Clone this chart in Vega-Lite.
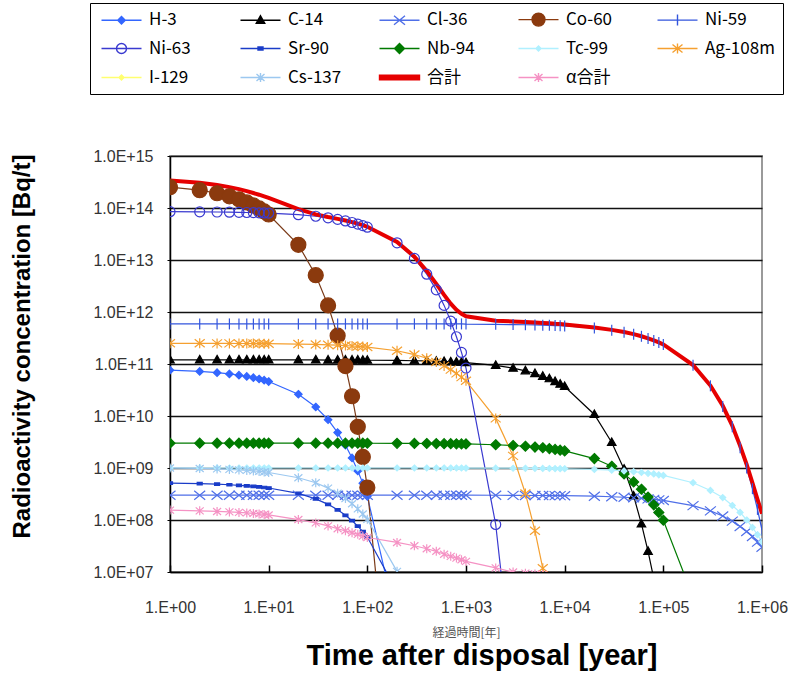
{
"$schema":"https://vega.github.io/schema/vega-lite/v6.json",
"width":592,"height":416,
"autosize":{"type":"none"},
"padding":{"left":170,"top":156,"right":27,"bottom":108},
"background":"white",
"title":{"text":"Time after disposal [year]","orient":"bottom","anchor":"middle","font":"Liberation Sans","fontSize":29,"fontWeight":"bold","color":"black","offset":4,"dx":16},
"data":{"values":[
{"s":"H-3","t":1,"v":7.6e10},{"s":"H-3","t":2,"v":7.2e10},{"s":"H-3","t":3,"v":6.8e10},{"s":"H-3","t":4,"v":6.45e10},{"s":"H-3","t":5,"v":6.1e10},{"s":"H-3","t":6,"v":5.77e10},{"s":"H-3","t":7,"v":5.45e10},{"s":"H-3","t":8,"v":5.15e10},{"s":"H-3","t":9,"v":4.88e10},{"s":"H-3","t":10,"v":4.6e10},{"s":"H-3","t":20,"v":2.62e10},{"s":"H-3","t":30,"v":1.49e10},{"s":"H-3","t":40,"v":8.5e9},{"s":"H-3","t":50,"v":4.8e9},{"s":"H-3","t":60,"v":2.74e9},{"s":"H-3","t":70,"v":1.56e9},{"s":"H-3","t":80,"v":8.8e8},{"s":"H-3","t":90,"v":5.1e8},{"s":"H-3","t":100,"v":2.85e8},{"s":"H-3","t":200,"v":1.0e6},
{"s":"C-14","t":1,"v":1.2e11},{"s":"C-14","t":2,"v":1.2e11},{"s":"C-14","t":3,"v":1.2e11},{"s":"C-14","t":4,"v":1.2e11},{"s":"C-14","t":5,"v":1.2e11},{"s":"C-14","t":6,"v":1.2e11},{"s":"C-14","t":7,"v":1.2e11},{"s":"C-14","t":8,"v":1.2e11},{"s":"C-14","t":9,"v":1.2e11},{"s":"C-14","t":10,"v":1.2e11},{"s":"C-14","t":20,"v":1.2e11},{"s":"C-14","t":30,"v":1.2e11},{"s":"C-14","t":40,"v":1.19e11},{"s":"C-14","t":50,"v":1.19e11},{"s":"C-14","t":60,"v":1.19e11},{"s":"C-14","t":70,"v":1.19e11},{"s":"C-14","t":80,"v":1.19e11},{"s":"C-14","t":90,"v":1.18e11},{"s":"C-14","t":100,"v":1.18e11},{"s":"C-14","t":200,"v":1.17e11},{"s":"C-14","t":300,"v":1.155e11},{"s":"C-14","t":400,"v":1.145e11},{"s":"C-14","t":500,"v":1.13e11},{"s":"C-14","t":600,"v":1.12e11},{"s":"C-14","t":700,"v":1.1e11},{"s":"C-14","t":800,"v":1.09e11},{"s":"C-14","t":900,"v":1.08e11},{"s":"C-14","t":1000,"v":1.06e11},{"s":"C-14","t":2000,"v":9.4e10},{"s":"C-14","t":3000,"v":8.3e10},{"s":"C-14","t":4000,"v":7.4e10},{"s":"C-14","t":5000,"v":6.55e10},{"s":"C-14","t":6000,"v":5.8e10},{"s":"C-14","t":7000,"v":5.2e10},{"s":"C-14","t":8000,"v":4.6e10},{"s":"C-14","t":9000,"v":4.1e10},{"s":"C-14","t":10000,"v":3.7e10},{"s":"C-14","t":20000,"v":1.07e10},{"s":"C-14","t":30000,"v":3.1e9},{"s":"C-14","t":40000,"v":9.5e8},{"s":"C-14","t":50000,"v":2.9e8},{"s":"C-14","t":60000,"v":8.4e7},{"s":"C-14","t":70000,"v":2.5e7},{"s":"C-14","t":80000,"v":7.5e6},{"s":"C-14","t":90000,"v":2.2e6},
{"s":"Cl-36","t":1,"v":3.0e8},{"s":"Cl-36","t":2,"v":3.0e8},{"s":"Cl-36","t":3,"v":3.0e8},{"s":"Cl-36","t":4,"v":3.0e8},{"s":"Cl-36","t":5,"v":3.0e8},{"s":"Cl-36","t":6,"v":3.0e8},{"s":"Cl-36","t":7,"v":3.0e8},{"s":"Cl-36","t":8,"v":3.0e8},{"s":"Cl-36","t":9,"v":3.0e8},{"s":"Cl-36","t":10,"v":3.0e8},{"s":"Cl-36","t":20,"v":3.0e8},{"s":"Cl-36","t":30,"v":3.0e8},{"s":"Cl-36","t":40,"v":3.0e8},{"s":"Cl-36","t":50,"v":3.0e8},{"s":"Cl-36","t":60,"v":3.0e8},{"s":"Cl-36","t":70,"v":3.0e8},{"s":"Cl-36","t":80,"v":3.0e8},{"s":"Cl-36","t":90,"v":3.0e8},{"s":"Cl-36","t":100,"v":3.0e8},{"s":"Cl-36","t":200,"v":3.0e8},{"s":"Cl-36","t":300,"v":3.0e8},{"s":"Cl-36","t":400,"v":3.0e8},{"s":"Cl-36","t":500,"v":3.0e8},{"s":"Cl-36","t":600,"v":3.0e8},{"s":"Cl-36","t":700,"v":3.0e8},{"s":"Cl-36","t":800,"v":3.0e8},{"s":"Cl-36","t":900,"v":3.0e8},{"s":"Cl-36","t":1000,"v":3.0e8},{"s":"Cl-36","t":2000,"v":2.99e8},{"s":"Cl-36","t":3000,"v":2.98e8},{"s":"Cl-36","t":4000,"v":2.97e8},{"s":"Cl-36","t":5000,"v":2.96e8},{"s":"Cl-36","t":6000,"v":2.96e8},{"s":"Cl-36","t":7000,"v":2.95e8},{"s":"Cl-36","t":8000,"v":2.94e8},{"s":"Cl-36","t":9000,"v":2.94e8},{"s":"Cl-36","t":10000,"v":2.93e8},{"s":"Cl-36","t":20000,"v":2.87e8},{"s":"Cl-36","t":30000,"v":2.8e8},{"s":"Cl-36","t":40000,"v":2.74e8},{"s":"Cl-36","t":50000,"v":2.67e8},{"s":"Cl-36","t":60000,"v":2.62e8},{"s":"Cl-36","t":70000,"v":2.55e8},{"s":"Cl-36","t":80000,"v":2.49e8},{"s":"Cl-36","t":90000,"v":2.44e8},{"s":"Cl-36","t":100000,"v":2.38e8},{"s":"Cl-36","t":200000,"v":1.89e8},{"s":"Cl-36","t":300000,"v":1.5e8},{"s":"Cl-36","t":400000,"v":1.19e8},{"s":"Cl-36","t":500000,"v":9.5e7},{"s":"Cl-36","t":600000,"v":7.5e7},{"s":"Cl-36","t":700000,"v":6.0e7},{"s":"Cl-36","t":800000,"v":4.8e7},{"s":"Cl-36","t":900000,"v":3.75e7},{"s":"Cl-36","t":1000000,"v":3.0e7},
{"s":"Co-60","t":1,"v":2.51e14},{"s":"Co-60","t":2,"v":2.2e14},{"s":"Co-60","t":3,"v":1.92e14},{"s":"Co-60","t":4,"v":1.68e14},{"s":"Co-60","t":5,"v":1.47e14},{"s":"Co-60","t":6,"v":1.28e14},{"s":"Co-60","t":7,"v":1.12e14},{"s":"Co-60","t":8,"v":9.8e13},{"s":"Co-60","t":9,"v":8.6e13},{"s":"Co-60","t":10,"v":7.5e13},{"s":"Co-60","t":20,"v":1.96e13},{"s":"Co-60","t":30,"v":5.1e12},{"s":"Co-60","t":40,"v":1.34e12},{"s":"Co-60","t":50,"v":3.5e11},{"s":"Co-60","t":60,"v":9.1e10},{"s":"Co-60","t":70,"v":2.4e10},{"s":"Co-60","t":80,"v":6.2e9},{"s":"Co-60","t":90,"v":1.63e9},{"s":"Co-60","t":100,"v":4.2e8},{"s":"Co-60","t":200,"v":600},
{"s":"Ni-59","t":1,"v":5.9e11},{"s":"Ni-59","t":2,"v":5.9e11},{"s":"Ni-59","t":3,"v":5.9e11},{"s":"Ni-59","t":4,"v":5.9e11},{"s":"Ni-59","t":5,"v":5.9e11},{"s":"Ni-59","t":6,"v":5.9e11},{"s":"Ni-59","t":7,"v":5.9e11},{"s":"Ni-59","t":8,"v":5.9e11},{"s":"Ni-59","t":9,"v":5.9e11},{"s":"Ni-59","t":10,"v":5.9e11},{"s":"Ni-59","t":20,"v":5.9e11},{"s":"Ni-59","t":30,"v":5.9e11},{"s":"Ni-59","t":40,"v":5.9e11},{"s":"Ni-59","t":50,"v":5.9e11},{"s":"Ni-59","t":60,"v":5.9e11},{"s":"Ni-59","t":70,"v":5.9e11},{"s":"Ni-59","t":80,"v":5.9e11},{"s":"Ni-59","t":90,"v":5.9e11},{"s":"Ni-59","t":100,"v":5.9e11},{"s":"Ni-59","t":200,"v":5.9e11},{"s":"Ni-59","t":300,"v":5.9e11},{"s":"Ni-59","t":400,"v":5.9e11},{"s":"Ni-59","t":500,"v":5.9e11},{"s":"Ni-59","t":600,"v":5.9e11},{"s":"Ni-59","t":700,"v":5.9e11},{"s":"Ni-59","t":800,"v":5.9e11},{"s":"Ni-59","t":900,"v":5.9e11},{"s":"Ni-59","t":1000,"v":5.85e11},{"s":"Ni-59","t":2000,"v":5.79e11},{"s":"Ni-59","t":3000,"v":5.72e11},{"s":"Ni-59","t":4000,"v":5.69e11},{"s":"Ni-59","t":5000,"v":5.63e11},{"s":"Ni-59","t":6000,"v":5.58e11},{"s":"Ni-59","t":7000,"v":5.54e11},{"s":"Ni-59","t":8000,"v":5.48e11},{"s":"Ni-59","t":9000,"v":5.44e11},{"s":"Ni-59","t":10000,"v":5.38e11},{"s":"Ni-59","t":20000,"v":4.92e11},{"s":"Ni-59","t":30000,"v":4.48e11},{"s":"Ni-59","t":40000,"v":4.09e11},{"s":"Ni-59","t":50000,"v":3.74e11},{"s":"Ni-59","t":60000,"v":3.41e11},{"s":"Ni-59","t":70000,"v":3.11e11},{"s":"Ni-59","t":80000,"v":2.84e11},{"s":"Ni-59","t":90000,"v":2.6e11},{"s":"Ni-59","t":100000,"v":2.37e11},{"s":"Ni-59","t":200000,"v":9.5e10},{"s":"Ni-59","t":300000,"v":3.8e10},{"s":"Ni-59","t":400000,"v":1.53e10},{"s":"Ni-59","t":500000,"v":6.2e9},{"s":"Ni-59","t":600000,"v":2.45e9},{"s":"Ni-59","t":700000,"v":1.0e9},{"s":"Ni-59","t":800000,"v":4.0e8},{"s":"Ni-59","t":900000,"v":1.6e8},{"s":"Ni-59","t":1000000,"v":6.4e7},
{"s":"Ni-63","t":1,"v":8.49e13},{"s":"Ni-63","t":2,"v":8.43e13},{"s":"Ni-63","t":3,"v":8.37e13},{"s":"Ni-63","t":4,"v":8.31e13},{"s":"Ni-63","t":5,"v":8.26e13},{"s":"Ni-63","t":6,"v":8.2e13},{"s":"Ni-63","t":7,"v":8.14e13},{"s":"Ni-63","t":8,"v":8.08e13},{"s":"Ni-63","t":9,"v":8.03e13},{"s":"Ni-63","t":10,"v":7.97e13},{"s":"Ni-63","t":20,"v":7.44e13},{"s":"Ni-63","t":30,"v":6.94e13},{"s":"Ni-63","t":40,"v":6.47e13},{"s":"Ni-63","t":50,"v":6.04e13},{"s":"Ni-63","t":60,"v":5.64e13},{"s":"Ni-63","t":70,"v":5.26e13},{"s":"Ni-63","t":80,"v":4.91e13},{"s":"Ni-63","t":90,"v":4.58e13},{"s":"Ni-63","t":100,"v":4.27e13},{"s":"Ni-63","t":200,"v":2.14e13},{"s":"Ni-63","t":300,"v":1.07e13},{"s":"Ni-63","t":400,"v":5.34e12},{"s":"Ni-63","t":500,"v":2.67e12},{"s":"Ni-63","t":600,"v":1.34e12},{"s":"Ni-63","t":700,"v":6.68e11},{"s":"Ni-63","t":800,"v":3.34e11},{"s":"Ni-63","t":900,"v":1.67e11},{"s":"Ni-63","t":1000,"v":8.35e10},{"s":"Ni-63","t":2000,"v":8.2e7},{"s":"Ni-63","t":3000,"v":8.0e4},
{"s":"Sr-90","t":1,"v":5.1e8},{"s":"Sr-90","t":2,"v":5.0e8},{"s":"Sr-90","t":3,"v":4.88e8},{"s":"Sr-90","t":4,"v":4.76e8},{"s":"Sr-90","t":5,"v":4.65e8},{"s":"Sr-90","t":6,"v":4.54e8},{"s":"Sr-90","t":7,"v":4.43e8},{"s":"Sr-90","t":8,"v":4.32e8},{"s":"Sr-90","t":9,"v":4.22e8},{"s":"Sr-90","t":10,"v":4.12e8},{"s":"Sr-90","t":20,"v":3.24e8},{"s":"Sr-90","t":30,"v":2.55e8},{"s":"Sr-90","t":40,"v":2.0e8},{"s":"Sr-90","t":50,"v":1.57e8},{"s":"Sr-90","t":60,"v":1.23e8},{"s":"Sr-90","t":70,"v":9.7e7},{"s":"Sr-90","t":80,"v":7.6e7},{"s":"Sr-90","t":90,"v":6.0e7},{"s":"Sr-90","t":100,"v":4.7e7},{"s":"Sr-90","t":200,"v":4.2e6},
{"s":"Nb-94","t":1,"v":3.0e9},{"s":"Nb-94","t":2,"v":3.0e9},{"s":"Nb-94","t":3,"v":3.0e9},{"s":"Nb-94","t":4,"v":3.0e9},{"s":"Nb-94","t":5,"v":3.0e9},{"s":"Nb-94","t":6,"v":3.0e9},{"s":"Nb-94","t":7,"v":3.0e9},{"s":"Nb-94","t":8,"v":3.0e9},{"s":"Nb-94","t":9,"v":3.0e9},{"s":"Nb-94","t":10,"v":3.0e9},{"s":"Nb-94","t":20,"v":3.0e9},{"s":"Nb-94","t":30,"v":3.0e9},{"s":"Nb-94","t":40,"v":3.0e9},{"s":"Nb-94","t":50,"v":3.0e9},{"s":"Nb-94","t":60,"v":3.0e9},{"s":"Nb-94","t":70,"v":3.0e9},{"s":"Nb-94","t":80,"v":3.0e9},{"s":"Nb-94","t":90,"v":3.0e9},{"s":"Nb-94","t":100,"v":2.99e9},{"s":"Nb-94","t":200,"v":2.98e9},{"s":"Nb-94","t":300,"v":2.97e9},{"s":"Nb-94","t":400,"v":2.96e9},{"s":"Nb-94","t":500,"v":2.95e9},{"s":"Nb-94","t":600,"v":2.94e9},{"s":"Nb-94","t":700,"v":2.93e9},{"s":"Nb-94","t":800,"v":2.92e9},{"s":"Nb-94","t":900,"v":2.91e9},{"s":"Nb-94","t":1000,"v":2.9e9},{"s":"Nb-94","t":2000,"v":2.8e9},{"s":"Nb-94","t":3000,"v":2.71e9},{"s":"Nb-94","t":4000,"v":2.62e9},{"s":"Nb-94","t":5000,"v":2.53e9},{"s":"Nb-94","t":6000,"v":2.45e9},{"s":"Nb-94","t":7000,"v":2.36e9},{"s":"Nb-94","t":8000,"v":2.28e9},{"s":"Nb-94","t":9000,"v":2.2e9},{"s":"Nb-94","t":10000,"v":2.13e9},{"s":"Nb-94","t":20000,"v":1.52e9},{"s":"Nb-94","t":30000,"v":1.08e9},{"s":"Nb-94","t":40000,"v":7.7e8},{"s":"Nb-94","t":50000,"v":5.4e8},{"s":"Nb-94","t":60000,"v":3.9e8},{"s":"Nb-94","t":70000,"v":2.76e8},{"s":"Nb-94","t":80000,"v":1.96e8},{"s":"Nb-94","t":90000,"v":1.4e8},{"s":"Nb-94","t":100000,"v":9.9e7},{"s":"Nb-94","t":200000,"v":3.3e6},
{"s":"Tc-99","t":1,"v":1.0e9},{"s":"Tc-99","t":2,"v":1.0e9},{"s":"Tc-99","t":3,"v":1.0e9},{"s":"Tc-99","t":4,"v":1.0e9},{"s":"Tc-99","t":5,"v":1.0e9},{"s":"Tc-99","t":6,"v":1.0e9},{"s":"Tc-99","t":7,"v":1.0e9},{"s":"Tc-99","t":8,"v":1.0e9},{"s":"Tc-99","t":9,"v":1.0e9},{"s":"Tc-99","t":10,"v":1.0e9},{"s":"Tc-99","t":20,"v":1.0e9},{"s":"Tc-99","t":30,"v":1.0e9},{"s":"Tc-99","t":40,"v":1.0e9},{"s":"Tc-99","t":50,"v":1.0e9},{"s":"Tc-99","t":60,"v":1.0e9},{"s":"Tc-99","t":70,"v":1.0e9},{"s":"Tc-99","t":80,"v":1.0e9},{"s":"Tc-99","t":90,"v":1.0e9},{"s":"Tc-99","t":100,"v":1.0e9},{"s":"Tc-99","t":200,"v":1.0e9},{"s":"Tc-99","t":300,"v":1.0e9},{"s":"Tc-99","t":400,"v":1.0e9},{"s":"Tc-99","t":500,"v":1.0e9},{"s":"Tc-99","t":600,"v":1.0e9},{"s":"Tc-99","t":700,"v":1.0e9},{"s":"Tc-99","t":800,"v":1.0e9},{"s":"Tc-99","t":900,"v":1.0e9},{"s":"Tc-99","t":1000,"v":9.97e8},{"s":"Tc-99","t":2000,"v":9.93e8},{"s":"Tc-99","t":3000,"v":9.9e8},{"s":"Tc-99","t":4000,"v":9.87e8},{"s":"Tc-99","t":5000,"v":9.84e8},{"s":"Tc-99","t":6000,"v":9.81e8},{"s":"Tc-99","t":7000,"v":9.77e8},{"s":"Tc-99","t":8000,"v":9.74e8},{"s":"Tc-99","t":9000,"v":9.71e8},{"s":"Tc-99","t":10000,"v":9.68e8},{"s":"Tc-99","t":20000,"v":9.4e8},{"s":"Tc-99","t":30000,"v":9.1e8},{"s":"Tc-99","t":40000,"v":8.8e8},{"s":"Tc-99","t":50000,"v":8.5e8},{"s":"Tc-99","t":60000,"v":8.2e8},{"s":"Tc-99","t":70000,"v":7.9e8},{"s":"Tc-99","t":80000,"v":7.7e8},{"s":"Tc-99","t":90000,"v":7.4e8},{"s":"Tc-99","t":100000,"v":7.2e8},{"s":"Tc-99","t":200000,"v":5.2e8},{"s":"Tc-99","t":300000,"v":3.7e8},{"s":"Tc-99","t":400000,"v":2.7e8},{"s":"Tc-99","t":500000,"v":1.9e8},{"s":"Tc-99","t":600000,"v":1.4e8},{"s":"Tc-99","t":700000,"v":1.0e8},{"s":"Tc-99","t":800000,"v":7.2e7},{"s":"Tc-99","t":900000,"v":5.2e7},{"s":"Tc-99","t":1000000,"v":3.8e7},
{"s":"Ag-108m","t":1,"v":2.5e11},{"s":"Ag-108m","t":2,"v":2.5e11},{"s":"Ag-108m","t":3,"v":2.49e11},{"s":"Ag-108m","t":4,"v":2.49e11},{"s":"Ag-108m","t":5,"v":2.48e11},{"s":"Ag-108m","t":6,"v":2.48e11},{"s":"Ag-108m","t":7,"v":2.47e11},{"s":"Ag-108m","t":8,"v":2.47e11},{"s":"Ag-108m","t":9,"v":2.46e11},{"s":"Ag-108m","t":10,"v":2.46e11},{"s":"Ag-108m","t":20,"v":2.42e11},{"s":"Ag-108m","t":30,"v":2.38e11},{"s":"Ag-108m","t":40,"v":2.34e11},{"s":"Ag-108m","t":50,"v":2.3e11},{"s":"Ag-108m","t":60,"v":2.26e11},{"s":"Ag-108m","t":70,"v":2.22e11},{"s":"Ag-108m","t":80,"v":2.19e11},{"s":"Ag-108m","t":90,"v":2.16e11},{"s":"Ag-108m","t":100,"v":2.12e11},{"s":"Ag-108m","t":200,"v":1.8e11},{"s":"Ag-108m","t":300,"v":1.52e11},{"s":"Ag-108m","t":400,"v":1.29e11},{"s":"Ag-108m","t":500,"v":1.09e11},{"s":"Ag-108m","t":600,"v":9.2e10},{"s":"Ag-108m","t":700,"v":7.8e10},{"s":"Ag-108m","t":800,"v":6.6e10},{"s":"Ag-108m","t":900,"v":5.6e10},{"s":"Ag-108m","t":1000,"v":4.75e10},{"s":"Ag-108m","t":2000,"v":9.0e9},{"s":"Ag-108m","t":3000,"v":1.71e9},{"s":"Ag-108m","t":4000,"v":3.24e8},{"s":"Ag-108m","t":5000,"v":6.2e7},{"s":"Ag-108m","t":6000,"v":1.18e7},{"s":"Ag-108m","t":7000,"v":2.2e6},
{"s":"I-129","t":1,"v":2.0e5},{"s":"I-129","t":10,"v":2.0e5},{"s":"I-129","t":100,"v":2.0e5},{"s":"I-129","t":1000,"v":2.0e5},{"s":"I-129","t":10000,"v":2.0e5},{"s":"I-129","t":100000,"v":2.0e5},{"s":"I-129","t":1000000,"v":1.9e5},
{"s":"Cs-137","t":1,"v":1.0e9},{"s":"Cs-137","t":2,"v":9.8e8},{"s":"Cs-137","t":3,"v":9.6e8},{"s":"Cs-137","t":4,"v":9.4e8},{"s":"Cs-137","t":5,"v":9.2e8},{"s":"Cs-137","t":6,"v":9.0e8},{"s":"Cs-137","t":7,"v":8.8e8},{"s":"Cs-137","t":8,"v":8.6e8},{"s":"Cs-137","t":9,"v":8.4e8},{"s":"Cs-137","t":10,"v":8.2e8},{"s":"Cs-137","t":20,"v":6.5e8},{"s":"Cs-137","t":30,"v":5.2e8},{"s":"Cs-137","t":40,"v":4.1e8},{"s":"Cs-137","t":50,"v":3.26e8},{"s":"Cs-137","t":60,"v":2.59e8},{"s":"Cs-137","t":70,"v":2.06e8},{"s":"Cs-137","t":80,"v":1.64e8},{"s":"Cs-137","t":90,"v":1.3e8},{"s":"Cs-137","t":100,"v":1.03e8},{"s":"Cs-137","t":200,"v":1.03e7},{"s":"Cs-137","t":300,"v":1.0e6},
{"s":"合計","t":1,"v":3.37e14},{"s":"合計","t":2,"v":3.05e14},{"s":"合計","t":3,"v":2.77e14},{"s":"合計","t":4,"v":2.52e14},{"s":"合計","t":5,"v":2.31e14},{"s":"合計","t":6,"v":2.11e14},{"s":"合計","t":7,"v":1.94e14},{"s":"合計","t":8,"v":1.8e14},{"s":"合計","t":9,"v":1.67e14},{"s":"合計","t":10,"v":1.56e14},{"s":"合計","t":20,"v":9.5e13},{"s":"合計","t":30,"v":7.55e13},{"s":"合計","t":40,"v":6.7e13},{"s":"合計","t":50,"v":6.17e13},{"s":"合計","t":60,"v":5.74e13},{"s":"合計","t":70,"v":5.36e13},{"s":"合計","t":80,"v":5.0e13},{"s":"合計","t":90,"v":4.67e13},{"s":"合計","t":100,"v":4.36e13},{"s":"合計","t":200,"v":2.23e13},{"s":"合計","t":300,"v":1.16e13},{"s":"合計","t":400,"v":6.17e12},{"s":"合計","t":500,"v":3.48e12},{"s":"合計","t":600,"v":2.13e12},{"s":"合計","t":700,"v":1.45e12},{"s":"合計","t":800,"v":1.1e12},{"s":"合計","t":900,"v":9.2e11},{"s":"合計","t":1000,"v":8.27e11},{"s":"合計","t":2000,"v":6.82e11},{"s":"合計","t":3000,"v":6.57e11},{"s":"合計","t":4000,"v":6.43e11},{"s":"合計","t":5000,"v":6.29e11},{"s":"合計","t":6000,"v":6.16e11},{"s":"合計","t":7000,"v":6.06e11},{"s":"合計","t":8000,"v":5.93e11},{"s":"合計","t":9000,"v":5.85e11},{"s":"合計","t":10000,"v":5.77e11},{"s":"合計","t":20000,"v":5.05e11},{"s":"合計","t":30000,"v":4.53e11},{"s":"合計","t":40000,"v":4.12e11},{"s":"合計","t":50000,"v":3.76e11},{"s":"合計","t":60000,"v":3.42e11},{"s":"合計","t":70000,"v":3.12e11},{"s":"合計","t":80000,"v":2.85e11},{"s":"合計","t":90000,"v":2.61e11},{"s":"合計","t":100000,"v":2.38e11},{"s":"合計","t":200000,"v":9.57e10},{"s":"合計","t":300000,"v":3.85e10},{"s":"合計","t":400000,"v":1.57e10},{"s":"合計","t":500000,"v":6.5e9},{"s":"合計","t":600000,"v":2.67e9},{"s":"合計","t":700000,"v":1.16e9},{"s":"合計","t":800000,"v":5.2e8},{"s":"合計","t":900000,"v":2.5e8},{"s":"合計","t":1000000,"v":1.32e8},
{"s":"α合計","t":1,"v":1.55e8},{"s":"α合計","t":2,"v":1.5e8},{"s":"α合計","t":3,"v":1.46e8},{"s":"α合計","t":4,"v":1.43e8},{"s":"α合計","t":5,"v":1.4e8},{"s":"α合計","t":6,"v":1.37e8},{"s":"α合計","t":7,"v":1.34e8},{"s":"α合計","t":8,"v":1.31e8},{"s":"α合計","t":9,"v":1.28e8},{"s":"α合計","t":10,"v":1.25e8},{"s":"α合計","t":20,"v":1.02e8},{"s":"α合計","t":30,"v":8.8e7},{"s":"α合計","t":40,"v":7.7e7},{"s":"α合計","t":50,"v":6.8e7},{"s":"α合計","t":60,"v":6.2e7},{"s":"α合計","t":70,"v":5.7e7},{"s":"α合計","t":80,"v":5.3e7},{"s":"α合計","t":90,"v":4.9e7},{"s":"α合計","t":100,"v":4.6e7},{"s":"α合計","t":200,"v":3.7e7},{"s":"α合計","t":300,"v":3.2e7},{"s":"α合計","t":400,"v":2.8e7},{"s":"α合計","t":500,"v":2.5e7},{"s":"α合計","t":600,"v":2.2e7},{"s":"α合計","t":700,"v":2.0e7},{"s":"α合計","t":800,"v":1.85e7},{"s":"α合計","t":900,"v":1.72e7},{"s":"α合計","t":1000,"v":1.6e7},{"s":"α合計","t":2000,"v":1.2e7},{"s":"α合計","t":3000,"v":1.0e7},{"s":"α合計","t":4000,"v":9.5e6},{"s":"α合計","t":5000,"v":9.2e6},{"s":"α合計","t":6000,"v":9.0e6}
]},
"encoding":{
"x":{"field":"t","type":"quantitative","scale":{"type":"log","domain":[1,1000000],"nice":false},
"axis":{"values":[1,10,100,1000,10000,100000,1000000],"labelExpr":"'1.E+0' + format(log(datum.value)/LN10, '.0f')","grid":false,"domainColor":"black","domainWidth":1.5,"tickColor":"black","tickWidth":1.5,"tickSize":-7,"labelFont":"Liberation Sans","labelFontSize":16,"labelColor":"#333","labelPadding":34,"labelFlush":false,"labelOverlap":false,"title":"経過時間[年]","titleFont":"Noto Sans CJK JP","titleFontSize":12,"titleFontWeight":"normal","titleColor":"#555","titlePadding":12}},
"y":{"field":"v","type":"quantitative","scale":{"type":"log","domain":[10000000,1000000000000000],"nice":false},
"axis":{"values":[10000000,100000000,1000000000,10000000000,100000000000,1000000000000,10000000000000,100000000000000,1000000000000000],"labelExpr":"'1.0E+' + format(log(datum.value)/LN10, '02.0f')","grid":true,"gridColor":"#111","gridWidth":1.6,"domainColor":"black","domainWidth":1.5,"tickColor":"black","tickSize":3,"labelFont":"Liberation Sans","labelFontSize":16,"labelColor":"#333","labelPadding":14,"labelOverlap":false,"title":"Radioactivity concentration [Bq/t]","titleFont":"Liberation Sans","titleFontSize":24,"titleFontWeight":"bold","titleColor":"black","titleX":-148,"titleY":190,"titleAngle":270,"titleAlign":"center","titleBaseline":"middle"}}
},
"layer":[
{"transform":[{"filter":"datum.s !== '合計'"}],
"mark":{"type":"line","strokeWidth":1.2,"clip":true},
"encoding":{"color":{"field":"s","type":"nominal","legend":null,"scale":{"domain":["H-3","C-14","Cl-36","Co-60","Ni-59","Ni-63","Sr-90","Nb-94","Tc-99","Ag-108m","I-129","Cs-137","合計","α合計"],"range":["#3366ff","#000000","#4f6fe8","#7a3a18","#3355dd","#3a3ad0","#1a3cc8","#007a00","#b0f0ff","#f5a030","#ffff70","#9cc8f0","#e60000","#f592c4"]}}}},
{"transform":[{"filter":"datum.s === '合計'"}],
"mark":{"type":"line","strokeWidth":4,"color":"#e60000","clip":true},
"encoding":{}},
{"transform":[{"filter":"datum.s !== '合計'"}],
"mark":{"type":"point","size":100,"strokeWidth":1.2,"opacity":1,"clip":true},
"encoding":{
"shape":{"field":"s","type":"nominal","legend":null,"scale":{"domain":["H-3","C-14","Cl-36","Co-60","Ni-59","Ni-63","Sr-90","Nb-94","Tc-99","Ag-108m","I-129","Cs-137","合計","α合計"],"range":["M0,-0.75L0.75,0L0,0.75L-0.75,0Z","M0,-0.9L0.85,0.6L-0.85,0.6Z","M-1.1,-0.9L1.1,0.9M-1.1,0.9L1.1,-0.9","M1.5,0A1.5,1.5 0 1,1 -1.5,0A1.5,1.5 0 1,1 1.5,0Z","M0,-1.1L0,1.1","M1,0A1,1 0 1,1 -1,0A1,1 0 1,1 1,0Z","M-0.5,-0.25L0.5,-0.25L0.5,0.25L-0.5,0.25Z","M0,-1L1,0L0,1L-1,0Z","M0,-0.6L0.6,0L0,0.6L-0.6,0Z","M-1,-0.8L1,0.8M-1,0.8L1,-0.8M0,-1L0,1","M0,-0.6L0.6,0L0,0.6L-0.6,0Z","M-0.8,-0.7L0.8,0.7M-0.8,0.7L0.8,-0.7M0,-0.9L0,0.9","M-0.1,0L0.1,0","M-0.8,-0.7L0.8,0.7M-0.8,0.7L0.8,-0.7M0,-0.9L0,0.9"]}},
"fill":{"field":"s","type":"nominal","legend":null,"scale":{"domain":["H-3","C-14","Cl-36","Co-60","Ni-59","Ni-63","Sr-90","Nb-94","Tc-99","Ag-108m","I-129","Cs-137","合計","α合計"],"range":["#3366ff","#000000","#4f6fe8","#8b3a0e","#3355dd","transparent","#1a3cc8","#007a00","#b0f0ff","#f5a030","#ffff70","#9cc8f0","#e60000","#f592c4"]}},
"stroke":{"field":"s","type":"nominal","legend":null,"scale":{"domain":["H-3","C-14","Cl-36","Co-60","Ni-59","Ni-63","Sr-90","Nb-94","Tc-99","Ag-108m","I-129","Cs-137","合計","α合計"],"range":["#3366ff","#000000","#4f6fe8","#8b3a0e","#3355dd","#3a3ad0","#1a3cc8","#007a00","#b0f0ff","#f5a030","#ffff70","#9cc8f0","#e60000","#f592c4"]}}}},
{"transform":[{"filter":"datum.v < 0"}],
"mark":{"type":"point","size":100,"strokeWidth":1.4,"opacity":1},
"encoding":{
"shape":{"field":"s","type":"nominal","scale":{"domain":["H-3","C-14","Cl-36","Co-60","Ni-59","Ni-63","Sr-90","Nb-94","Tc-99","Ag-108m","I-129","Cs-137","合計","α合計"],"range":["M-1,0L7,0M3,-0.75L3.75,0L3,0.75L2.25,0Z","M-1,0L7,0M3,-0.9L3.85,0.6L2.15,0.6Z","M-1,0L7,0M1.9,-0.9L4.1,0.9M1.9,0.9L4.1,-0.9","M-1,0L7,0M4.3,0A1.3,1.3 0 1,1 1.7,0A1.3,1.3 0 1,1 4.3,0Z","M-1,0L7,0M3,-1.1L3,1.1","M-1,0L7,0M4,0A1,1 0 1,1 2,0A1,1 0 1,1 4,0Z","M-1,0L7,0M2.5,-0.3L3.5,-0.3L3.5,0.3L2.5,0.3Z","M-1,0L7,0M3,-1L4,0L3,1L2,0Z","M-1,0L7,0M3,-0.5L3.5,0L3,0.5L2.5,0Z","M-1,0L7,0M2,-0.8L4,0.8M2,0.8L4,-0.8M3,-1L3,1","M-1,0L7,0M3,-0.5L3.5,0L3,0.5L2.5,0Z","M-1,0L7,0M2.2,-0.7L3.8,0.7M2.2,0.7L3.8,-0.7M3,-0.9L3,0.9","M-1,-0.45L7,-0.45L7,0.45L-1,0.45Z","M-1,0L7,0M2.2,-0.7L3.8,0.7M2.2,0.7L3.8,-0.7M3,-0.9L3,0.9"]},
"legend":{"orient":"none","legendX":-80,"legendY":-153,"direction":"horizontal","columns":5,"title":null,"labelFont":"Noto Sans CJK JP","labelFontSize":17,"labelColor":"black","symbolSize":100,"symbolStrokeWidth":1.4,"labelOffset":34,"columnPadding":18,"rowPadding":10,"padding":8,"strokeColor":"black","gridAlign":"all"}},
"fill":{"field":"s","type":"nominal","scale":{"domain":["H-3","C-14","Cl-36","Co-60","Ni-59","Ni-63","Sr-90","Nb-94","Tc-99","Ag-108m","I-129","Cs-137","合計","α合計"],"range":["#3366ff","#000000","#4f6fe8","#8b3a0e","#3355dd","white","#1a3cc8","#007a00","#b0f0ff","#f5a030","#ffff70","#9cc8f0","#e60000","#f592c4"]},
"legend":{"orient":"none","legendX":-80,"legendY":-153,"direction":"horizontal","columns":5,"title":null,"labelFont":"Noto Sans CJK JP","labelFontSize":17,"labelColor":"black","symbolSize":100,"symbolStrokeWidth":1.4,"labelOffset":34,"columnPadding":18,"rowPadding":10,"padding":8,"strokeColor":"black","gridAlign":"all"}},
"stroke":{"field":"s","type":"nominal","scale":{"domain":["H-3","C-14","Cl-36","Co-60","Ni-59","Ni-63","Sr-90","Nb-94","Tc-99","Ag-108m","I-129","Cs-137","合計","α合計"],"range":["#3366ff","#000000","#4f6fe8","#8b3a0e","#3355dd","#3a3ad0","#1a3cc8","#007a00","#b0f0ff","#f5a030","#ffff70","#9cc8f0","#e60000","#f592c4"]},
"legend":{"orient":"none","legendX":-80,"legendY":-153,"direction":"horizontal","columns":5,"title":null,"labelFont":"Noto Sans CJK JP","labelFontSize":17,"labelColor":"black","symbolSize":100,"symbolStrokeWidth":1.4,"labelOffset":34,"columnPadding":18,"rowPadding":10,"padding":8,"strokeColor":"black","gridAlign":"all"}}}}
],
"resolve":{"scale":{"color":"independent","shape":"independent","fill":"independent","stroke":"independent"}},
"config":{"view":{"stroke":"#9a9a9a","strokeWidth":2},"font":"Liberation Sans"}
}
